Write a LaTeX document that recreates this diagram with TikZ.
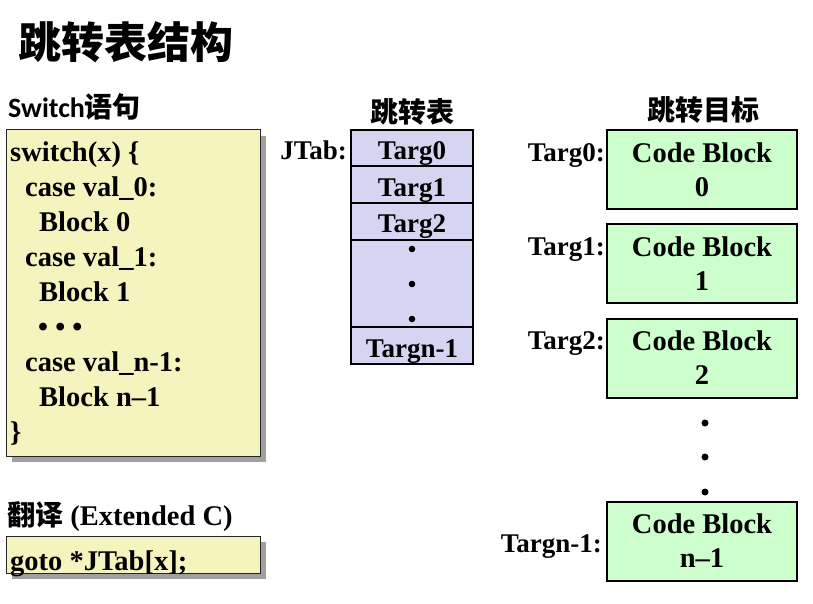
\documentclass[tikz,border=0pt]{standalone}
\usepackage{fontspec}
\setmainfont{Liberation Serif}
\newfontfamily\cjk{Noto Sans CJK SC}
\newfontfamily\calib{Carlito}
\usetikzlibrary{shadows}
\definecolor{codeyellow}{HTML}{F5F3BE}
\definecolor{tablav}{HTML}{D5D5F2}
\definecolor{blockgreen}{HTML}{CCFFCC}
\definecolor{shadowgray}{HTML}{A0A0A0}

\begin{document}
\begin{tikzpicture}[x=1pt,y=-1pt,
        txt/.style={inner sep=0pt, font=\bfseries\fontsize{28.5}{34}\selectfont},
        head/.style={inner sep=0pt, font=\cjk\bfseries\fontsize{28}{32}\selectfont},
        codebox/.style={draw=black!85, line width=1pt, fill=codeyellow, minimum width=254pt, inner sep=0pt,
            drop shadow={shadow xshift=6pt, shadow yshift=-6pt, fill=shadowgray, opacity=1}},
        cell/.style={draw, line width=2pt, fill=tablav, minimum width=122pt, minimum height=36.5pt,
            inner sep=0pt, text height=23pt, text depth=0pt, font=\bfseries\fontsize{27}{30}\selectfont},
        block/.style={draw, line width=2pt, fill=blockgreen, minimum width=190pt, minimum height=79pt,
            inner sep=0pt, align=center, font=\bfseries\fontsize{28.5}{34}\selectfont},
        lbl/.style={inner sep=0pt, anchor=base east, font=\bfseries\fontsize{27}{30}\selectfont}]
        \useasboundingbox (0,0) rectangle (813,604);

        % titles
        \node[anchor=west, inner sep=0pt, font=\cjk\bfseries\fontsize{43}{50}\selectfont] (title) at (18,42) {跳转表结构};
        \node[anchor=base west, inner sep=0pt] (swtitle) at (8,118)
            {{\calib\bfseries\fontsize{28}{32}\selectfont Switch}{\cjk\bfseries\fontsize{28}{32}\selectfont 语句}};
        \node[head] (tabhead) at (412,112) {跳转表};
        \node[head] (tgthead) at (703,110) {跳转目标};

        % switch source
        \node[codebox, minimum height=326pt] (swbox) at (133,293) {};
        \foreach \ctext/\ind [count=\i] in {{switch(x) \{}/0, {case val\_0:}/15, {Block 0}/29,
                {case val\_1:}/15, {Block 1}/29, {\textbullet\ \textbullet\ \textbullet}/28,
                {case val\_n-1:}/15, {Block n--1}/29, {\}}/0}
            \node[txt, anchor=base west] (code\i) at (10+\ind, 162+34.9*\i-34.9) {\ctext};

        % translation
        \node[anchor=base west, inner sep=0pt] (trtitle) at (7,525)
            {{\cjk\bfseries\fontsize{28}{32}\selectfont 翻译}{\bfseries\fontsize{28.5}{34}\selectfont\ (Extended C)}};
        \node[codebox, minimum height=37pt] (gotobox) at (133,554.5) {};
        \node[txt, anchor=base west] (gototxt) at (10,570) {goto *JTab[x];};

        % jump table
        \node[lbl] (jtab) at (347,160) {JTab:};
        \node[cell] (targ0) at (412,148.25) {Targ0};
        \node[cell] (targ1) at (412,184.75) {Targ1};
        \node[cell] (targ2) at (412,221.25) {Targ2};
        \node[cell, minimum height=88pt] (targdots) at (412,283.5) {};
        \node[cell] (targn) at (412,345.5) {Targn-1};
        \foreach \y in {249,284,319}
            \fill (412,\y) circle (3.3pt);

        % targets
        \node[block] (cb0) at (702,169.5) {Code Block\\0};
        \node[block] (cb1) at (702,263.5) {Code Block\\1};
        \node[block] (cb2) at (702,358) {Code Block\\2};
        \node[block] (cbn) at (702,541) {Code Block\\n--1};
        \node[lbl] (lab0) at (605,161) {Targ0:};
        \node[lbl] (lab1) at (605,255) {Targ1:};
        \node[lbl] (lab2) at (605,349) {Targ2:};
        \node[lbl] (labn) at (602,552) {Targn-1:};
        \foreach \y in {423,457,492}
            \fill (705,\y) circle (3.5pt);

    \end{tikzpicture}
\end{document}
